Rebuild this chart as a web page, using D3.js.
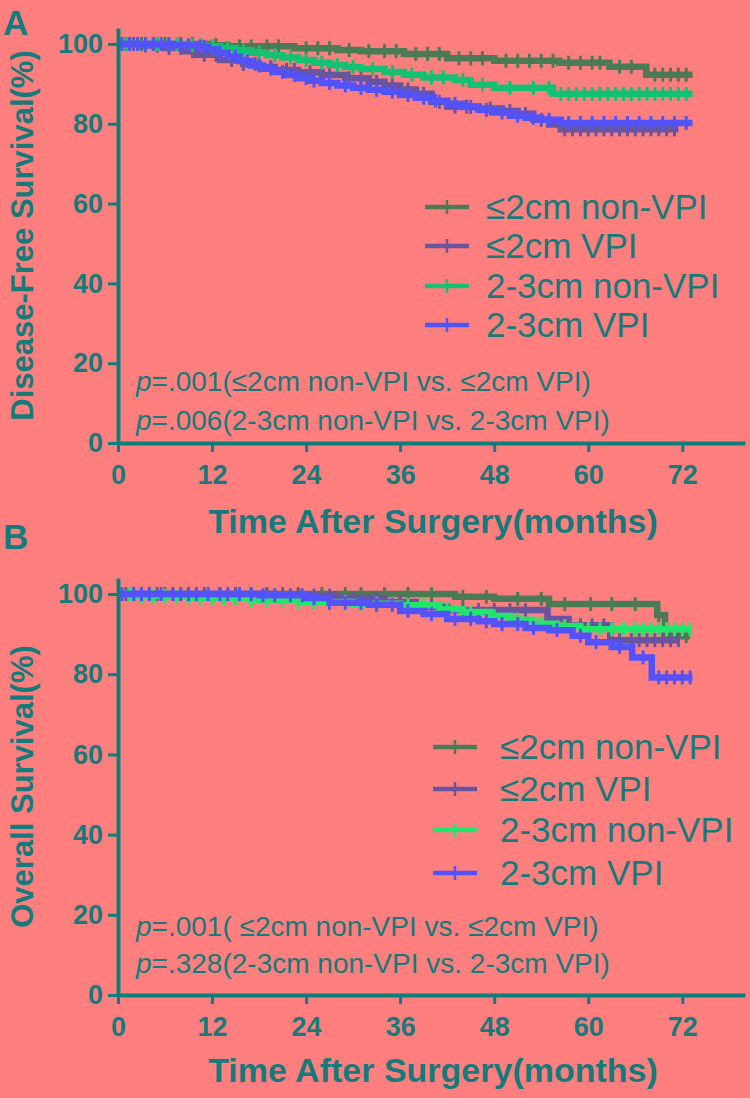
<!DOCTYPE html>
<html><head><meta charset="utf-8">
<script src="https://cdn.jsdelivr.net/npm/d3@7"></script>
<style>body{margin:0;background:#ff7f7f}svg{display:block}</style>
</head><body><svg id="c" width="750" height="1098"></svg>
<script>
// ---------- data ----------
const seriesNames = ["≤2cm non-VPI", "≤2cm VPI", "2-3cm non-VPI", "2-3cm VPI"];
const xTicks = [0, 12, 24, 36, 48, 60, 72];
const yTicks = [0, 20, 40, 60, 80, 100];

// Panel A: Disease-free survival (step times, survival %, last follow-up, censor times)
const dfsA_le2Non_t = [0, 11.5, 14, 22.5, 28, 31, 36.5, 42, 48, 56.3, 62.7, 67.4];
const dfsA_le2Non_v = [100, 99.7, 99.4, 98.9, 98.5, 98.2, 97.5, 96.4, 95.8, 95.3, 94.3, 92.3];
const dfsA_le2Non_end = 73.3;
const dfsA_le2Non_cens = [1.5,3,4.5,6,8,9.5,12.5,15.5,17,19,20.5,24,25.5,27,29.5,32,34,35.5,38,39.5,41,43.5,45,46.5,49.5,51,52.5,54,55.5,57.5,59,60.5,61.5,64,65.5,68.5,69.5,70.5,71.5,72.5];

const dfsA_le2Vpi_t = [0, 3, 6, 8.5, 10, 13, 16, 18, 20, 23, 26, 29, 32, 34, 36, 38, 40, 42, 46, 49, 51, 53, 55, 56.5];
const dfsA_le2Vpi_v = [100, 99.6, 99.0, 98.2, 97.3, 96.0, 95.0, 94.2, 93.5, 92.9, 92.2, 91.4, 90.5, 89.6, 88.6, 87.5, 85.5, 84.3, 83.8, 83.2, 82.5, 81.0, 79.8, 78.6];
const dfsA_le2Vpi_end = 71.5;
const dfsA_le2Vpi_cens = [1,2,3.5,5,6.5,8,9.5,11,12.5,14.5,16,17.5,19.5,21.5,22.5,24.5,27,29.5,31,33,35,37,39,41,43,44.5,47.5,50,52,54,57,58,59,60,61,62,63,64,65,66,67,68,69,70,71];

const dfsA_23Non_t = [0, 9, 11, 13, 15, 17, 19, 21, 23, 25, 27, 29, 31, 34, 36.5, 39, 43, 45, 48, 55.5];
const dfsA_23Non_v = [100, 99.7, 99.4, 99.0, 98.4, 97.8, 97.2, 96.6, 96.0, 95.3, 94.7, 94.2, 93.7, 93.0, 92.3, 91.6, 91.0, 89.8, 89.0, 87.5];
const dfsA_23Non_end = 73.3;
const dfsA_23Non_cens = [1,2.5,3.5,5,6.5,7.5,9.5,10.5,12,14,16,18,20,22,24,26,28,30,32.5,35,37.5,40,41.5,44,46.5,50,53,55,56.5,57.5,58.5,59.5,60.5,61.5,62.5,63.5,64.5,65.5,66.5,67.5,68.5,69.5,70.5,71.5,72.5];

const dfsA_23Vpi_t = [0, 7, 10, 11.5, 12.5, 14, 15.5, 17, 18.5, 20, 21.5, 23, 24.5, 26, 28, 30, 32, 34, 36, 38, 40, 42, 44, 46, 48, 50, 52, 54, 56.5];
const dfsA_23Vpi_v = [100, 99.7, 99.3, 98.6, 97.8, 96.8, 95.7, 94.6, 93.8, 93.0, 92.2, 91.4, 90.8, 90.2, 89.6, 89.0, 88.5, 88.0, 87.2, 86.5, 85.8, 85.0, 84.2, 83.5, 82.8, 82.0, 81.5, 81.0, 80.2];
const dfsA_23Vpi_end = 73.3;
const dfsA_23Vpi_cens = [0.5,1.5,2.5,3.5,4.5,5.5,6.5,8,9,10.5,11,13,15,16.5,18,19.5,21,22.5,24,25,27,29,31,33,35,37,39,40.5,43,45,47,49,51,53,55,57.5,59,60.5,62,63.5,65,66.5,68,69.5,71,72.5];

// Panel B: Overall survival
const osB_le2Non_t = [0, 43, 48, 55, 68.8, 69.8];
const osB_le2Non_v = [100, 99.3, 98.8, 97.5, 94.8, 89.5];
const osB_le2Non_end = 73;
const osB_le2Non_cens = [2,4,6,8,10,13,15,17,19,21,23,26,29,31,34,37,40,44,47,51,54,57,60.3,63,66,69,70.5,71.5,72.5];

const osB_le2Vpi_t = [0, 20, 28, 34, 38, 42, 54.8, 57.5, 62.8];
const osB_le2Vpi_v = [100, 99.6, 99.0, 98.0, 96.8, 96.0, 93.8, 92.2, 88.5];
const osB_le2Vpi_end = 71.6;
const osB_le2Vpi_cens = [1,3,5,7,9,11,13,15,17,19,21,23,25,27,30,33,36,40,44,46,48,50,52,55,59,60.5,62,64,65.5,66.5,67.5,68.5,69.5,70.5,71.5];

const osB_23Non_t = [0, 2, 9, 17, 23, 30, 36, 41, 44, 47.5, 50, 53, 56, 59];
const osB_23Non_v = [100, 99.5, 99.0, 98.5, 98.0, 97.6, 97.2, 96.2, 95.5, 94.5, 93.6, 92.6, 92.0, 91.2];
const osB_23Non_end = 73;
const osB_23Non_cens = [1.5,3,4.5,6,7.5,9,10.5,12,13.5,15,17,19,21,23,25,27,29,31,33,35,37,39,42,45,48,51,54,57,60,61.5,63,64.5,66,67,68,69,70,71,72,73];

const osB_23Vpi_t = [0, 18, 24, 27, 32, 36, 39, 42, 46, 48, 52, 55, 58, 60, 63, 65.6, 68.1];
const osB_23Vpi_v = [100, 99.7, 99.0, 97.8, 97.3, 95.8, 95.0, 93.8, 93.2, 92.5, 91.5, 91.0, 89.6, 88.0, 86.8, 84.2, 79.2];
const osB_23Vpi_end = 73.3;
const osB_23Vpi_cens = [0.5,2,3,4,5.5,7,8,9,10,11.5,13,14,15.5,17,18.5,20,22,23.5,25,27,29,31,33,35,37,40,43,45,47,49,51,53,56,59,61,64,67,69,70,71,72,73];

const colorsA = ["#4a7b55", "#6a559c", "#14c173", "#5252ff"];
const colorsB = ["#4a7b55", "#6a559c", "#22e56c", "#5252ff"];

// ---------- drawing ----------
const svg = d3.select("#c");
const teal = "#0f7d7b";
const txt = "#16797a";
const FONT = "'Liberation Sans', Arial, sans-serif";

svg.append("rect").attr("width", 750).attr("height", 1098).attr("fill", "#ff7f7f");

function mk(t, v, end, cens) { return {t, v, end, cens}; }

const panels = [
  {letter: "A", letterY: 35, yRange: [443, 28], ytitle: "Disease-Free Survival(%)",
   xtitleY: 533, colors: colorsA,
   series: [mk(dfsA_le2Non_t, dfsA_le2Non_v, dfsA_le2Non_end, dfsA_le2Non_cens),
            mk(dfsA_le2Vpi_t, dfsA_le2Vpi_v, dfsA_le2Vpi_end, dfsA_le2Vpi_cens),
            mk(dfsA_23Non_t, dfsA_23Non_v, dfsA_23Non_end, dfsA_23Non_cens),
            mk(dfsA_23Vpi_t, dfsA_23Vpi_v, dfsA_23Vpi_end, dfsA_23Vpi_cens)],
   legX: 425, legTextX: 486, legY: [207, 246, 286, 325],
   pTexts: [[".001(≤2cm non-VPI vs. ≤2cm VPI)", 391], [".006(2-3cm non-VPI vs. 2-3cm VPI)", 430]]},
  {letter: "B", letterY: 549, yRange: [995, 578], ytitle: "Overall Survival(%)",
   xtitleY: 1082, colors: colorsB,
   series: [mk(osB_le2Non_t, osB_le2Non_v, osB_le2Non_end, osB_le2Non_cens),
            mk(osB_le2Vpi_t, osB_le2Vpi_v, osB_le2Vpi_end, osB_le2Vpi_cens),
            mk(osB_23Non_t, osB_23Non_v, osB_23Non_end, osB_23Non_cens),
            mk(osB_23Vpi_t, osB_23Vpi_v, osB_23Vpi_end, osB_23Vpi_cens)],
   legX: 433, legTextX: 500, legY: [747, 789, 830, 873],
   pTexts: [[".001( ≤2cm non-VPI vs. ≤2cm VPI)", 936], [".328(2-3cm non-VPI vs. 2-3cm VPI)", 973]]}
];

const drawOrder = [0, 1, 2, 3];

panels.forEach(p => {
  const x = d3.scaleLinear().domain([0, 80]).range([118, 745]);
  const y = d3.scaleLinear().domain([0, 104]).range(p.yRange);
  const g = svg.append("g");

  // panel letter
  g.append("text").attr("x", 3).attr("y", p.letterY).text(p.letter)
    .attr("font-family", FONT).attr("font-weight", "bold").attr("font-size", 35).attr("fill", teal);

  // curves
  const line = d3.line().x(d => x(d[0])).y(d => y(d[1])).curve(d3.curveStepAfter);
  drawOrder.forEach(i => {
    const s = p.series[i];
    const pts = s.t.map((t, k) => [t, s.v[k]]);
    pts.push([s.end, s.v[s.v.length - 1]]);
    g.append("path").attr("d", line(pts)).attr("fill", "none")
      .attr("stroke", p.colors[i]).attr("stroke-width", 6.5);
    const valAt = t => { let v = s.v[0]; s.t.forEach((tt, k) => { if (tt <= t) v = s.v[k]; }); return v; };
    g.selectAll(null).data(s.cens).enter().append("line")
      .attr("x1", d => x(d)).attr("x2", d => x(d))
      .attr("y1", d => y(valAt(d)) - 7).attr("y2", d => y(valAt(d)) + 7)
      .attr("stroke", p.colors[i]).attr("stroke-width", 3);
  });

  // axes
  const ya = g.append("g").attr("transform", "translate(118,0)")
    .call(d3.axisLeft(y).tickValues(yTicks).tickSize(10).tickSizeOuter(0).tickPadding(5));
  const xa = g.append("g").attr("transform", `translate(0,${p.yRange[0]})`)
    .call(d3.axisBottom(x).tickValues(xTicks).tickSize(9).tickSizeOuter(0).tickPadding(13));
  [ya, xa].forEach(a => {
    a.select(".domain").attr("stroke", teal).attr("stroke-width", 4);
    a.selectAll(".tick line").attr("stroke", teal).attr("stroke-width", 3);
    a.selectAll(".tick text").attr("fill", txt).attr("font-family", FONT)
      .attr("font-weight", "bold").attr("font-size", 27);
  });

  // axis titles
  const yMid = (p.yRange[0] + p.yRange[1]) / 2;
  g.append("text").attr("transform", `translate(33,${yMid}) rotate(-90)`)
    .attr("text-anchor", "middle").text(p.ytitle)
    .attr("font-family", FONT).attr("font-weight", "bold").attr("font-size", 31).attr("fill", txt);
  g.append("text").attr("x", 433).attr("y", p.xtitleY).attr("text-anchor", "middle")
    .text("Time After Surgery(months)")
    .attr("font-family", FONT).attr("font-weight", "bold").attr("font-size", 34).attr("fill", txt);

  // legend
  seriesNames.forEach((name, i) => {
    const ly = p.legY[i];
    g.append("line").attr("x1", p.legX).attr("x2", p.legX + 44).attr("y1", ly).attr("y2", ly)
      .attr("stroke", p.colors[i]).attr("stroke-width", 4.5);
    g.append("line").attr("x1", p.legX + 22).attr("x2", p.legX + 22).attr("y1", ly - 7).attr("y2", ly + 7)
      .attr("stroke", p.colors[i]).attr("stroke-width", 2.5);
    g.append("text").attr("x", p.legTextX).attr("y", ly + 12).text(name)
      .attr("font-family", FONT).attr("font-size", 35).attr("fill", txt);
  });

  // p-values
  p.pTexts.forEach(([t, yy]) => {
    const tx = g.append("text").attr("x", 136).attr("y", yy)
      .attr("font-family", FONT).attr("font-size", 28).attr("fill", txt);
    tx.append("tspan").attr("font-style", "italic").text("p");
    tx.append("tspan").text("=" + t);
  });
});
</script></body></html>
